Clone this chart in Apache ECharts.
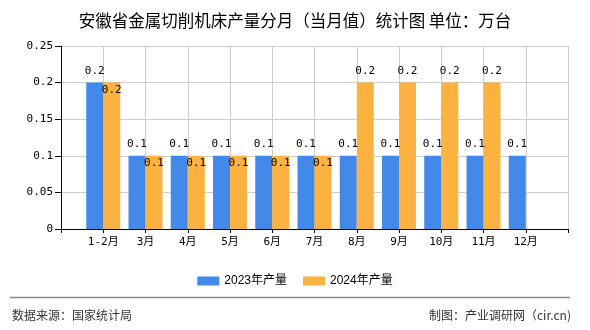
<!DOCTYPE html>
<html>
<head>
<meta charset="utf-8">
<script src="https://cdn.jsdelivr.net/npm/echarts@6/dist/echarts.min.js"></script>
<style>html,body{margin:0;padding:0;background:#fff}#c{width:590px;height:330px}</style>
</head>
<body>
<div id="c"></div>
<script>
var categories = ['1-2月','3月','4月','5月','6月','7月','8月','9月','10月','11月','12月'];
var seriesNames = ['2023年产量','2024年产量'];
var values2023 = [0.2,0.1,0.1,0.1,0.1,0.1,0.1,0.1,0.1,0.1,0.1];
var values2024 = [0.2,0.1,0.1,0.1,0.1,0.1,0.2,0.2,0.2,0.2,null];
var yTicks = [0,0.05,0.1,0.15,0.2,0.25];

var mono = '"DejaVu Sans Mono","Noto Sans CJK SC",monospace';
var cjk = '"Noto Sans CJK SC",sans-serif';

var xData = [''].concat(categories, ['']);
function pad(arr){ return ['-'].concat(arr.map(function(v){return v==null?'-':v;}), ['-']); }

var d2023 = pad(values2023);
var d2024 = pad(values2024).map(function(v, i){
  if (v === '-') return v;
  var same = v === d2023[i];
  return {value: v, label: {position: same ? 'insideTop' : 'top', distance: same ? 2 : 6}};
});

var chart = echarts.init(document.getElementById('c'));
chart.setOption({
  animation: false,
  title: {
    text: '安徽省金属切削机床产量分月（当月值）统计图 单位：万台',
    left: 'center', top: 7,
    textStyle: {fontFamily: cjk, fontSize: 16.5, fontWeight: 'normal', color: '#000'}
  },
  legend: {
    data: seriesNames,
    left: 'center', top: 270,
    itemWidth: 22, itemHeight: 9, itemGap: 16,
    icon: 'rect',
    textStyle: {fontFamily: '"Liberation Sans","Noto Sans CJK SC",sans-serif', fontSize: 12, color: '#000'}
  },
  grid: {left: 61, right: 22, top: 46, bottom: 101},
  xAxis: {
    type: 'category',
    data: xData,
    boundaryGap: false,
    axisLine: {lineStyle: {color: '#000'}},
    axisTick: {show: true, length: 4, lineStyle: {color: '#000'}},
    axisLabel: {fontFamily: mono, fontSize: 11, color: '#000', margin: 8, interval: 0},
    splitLine: {show: true, lineStyle: {color: '#cccccc'}}
  },
  yAxis: {
    type: 'value',
    min: yTicks[0], max: yTicks[yTicks.length-1], interval: 0.05,
    axisLine: {show: true, lineStyle: {color: '#000'}},
    axisTick: {show: true, length: 6, lineStyle: {color: '#000'}},
    axisLabel: {fontFamily: mono, fontSize: 11, color: '#000', margin: 8},
    splitLine: {show: true, lineStyle: {color: '#cccccc'}}
  },
  series: [
    {
      name: seriesNames[0], type: 'bar', data: d2023,
      barWidth: 17, barGap: '0%',
      itemStyle: {color: '#4289ea'},
      label: {show: true, position: 'top', distance: 6, fontFamily: mono, fontSize: 11, color: '#000'}
    },
    {
      name: seriesNames[1], type: 'bar', data: d2024,
      barWidth: 17, barGap: '0%',
      itemStyle: {color: '#fbb241'},
      label: {show: true, position: 'top', fontFamily: mono, fontSize: 11, color: '#000'}
    }
  ],
  graphic: [
    {type: 'line', shape: {x1: 10, y1: 297.5, x2: 570, y2: 297.5}, style: {stroke: '#888', lineWidth: 1.5}},
    {type: 'text', left: 12, top: 309, style: {text: '数据来源：国家统计局', font: '12px "Noto Sans CJK SC", sans-serif', fill: '#333'}},
    {type: 'text', right: 19, top: 309, style: {text: '制图：产业调研网（cir.cn)', font: '12px "Noto Sans CJK SC", sans-serif', fill: '#333'}}
  ]
});
</script>
</body>
</html>
